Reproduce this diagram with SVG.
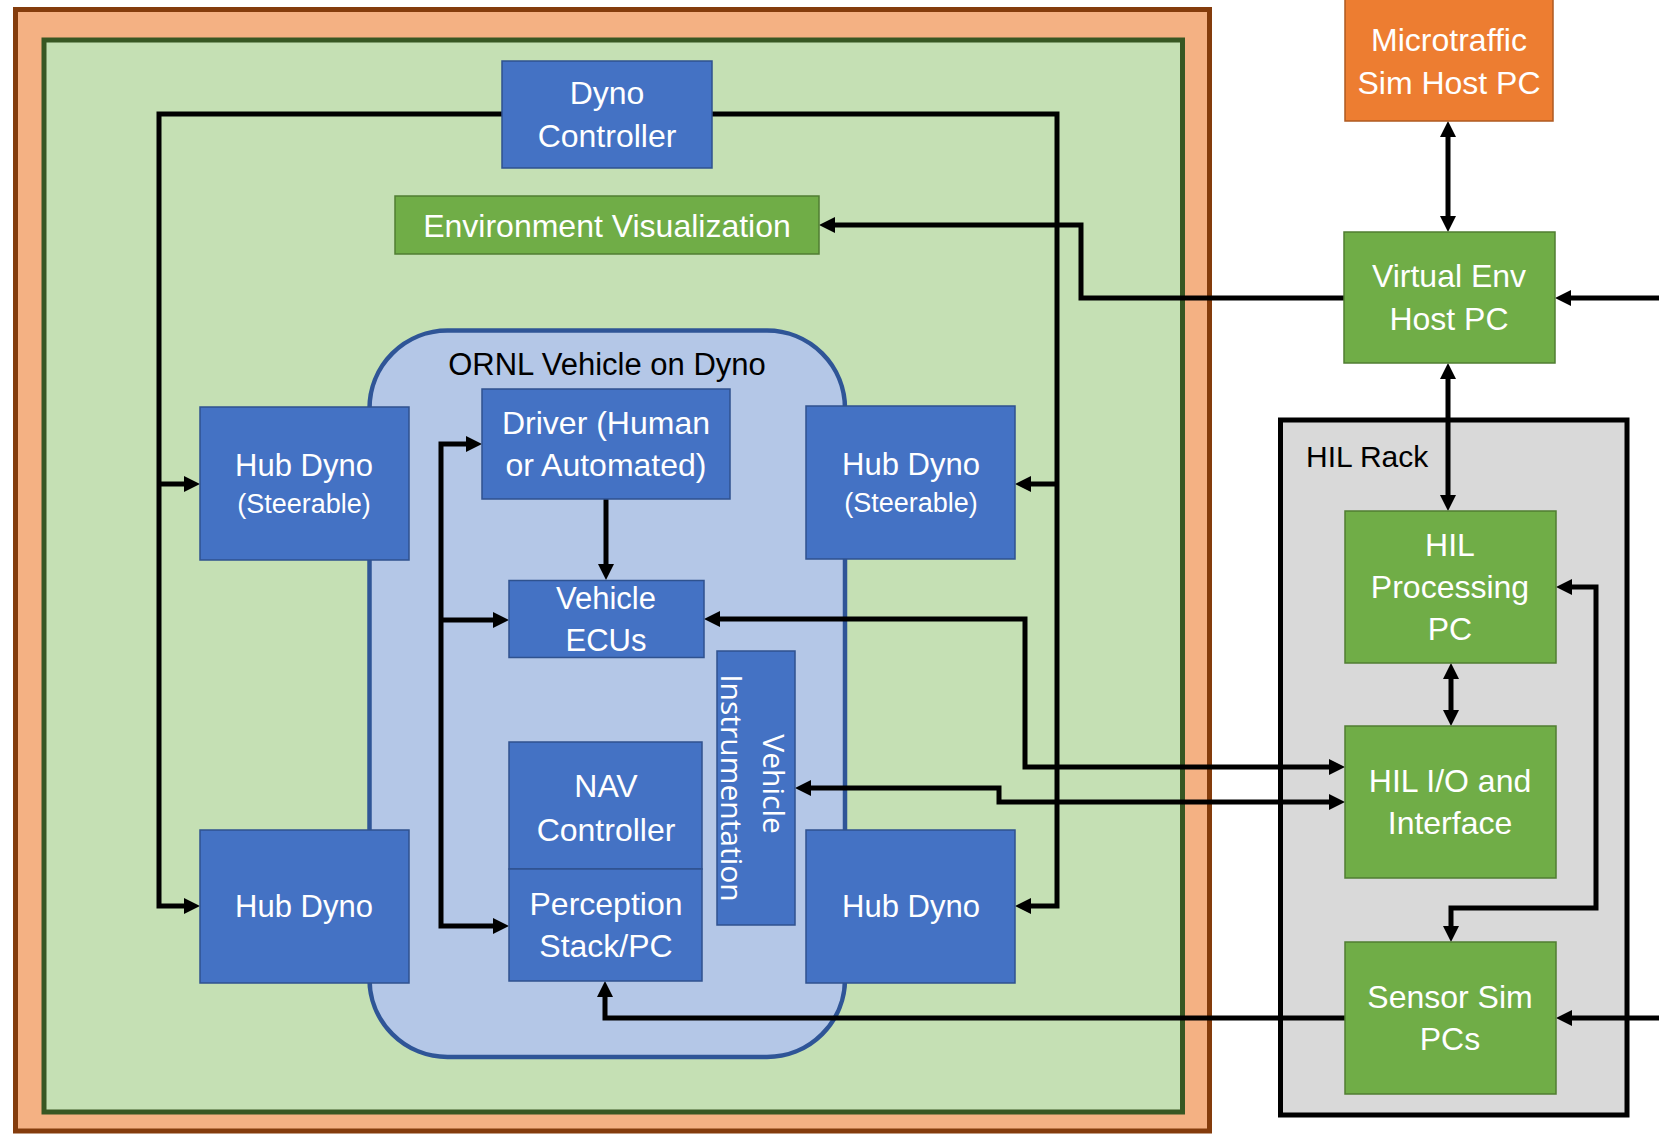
<svg xmlns="http://www.w3.org/2000/svg" width="1659" height="1134" viewBox="0 0 1659 1134">
  <style>
    .lbl { font-family: "Liberation Sans", Arial, sans-serif; font-size: 32px; fill: #ffffff; text-anchor: middle; }
    .dark { fill: #000000; }
    .blue { fill: #4472C4; stroke: #2F528F; stroke-width: 1.5; }
    .green { fill: #70AD47; stroke: #507E32; stroke-width: 1.5; }
    .orange { fill: #ED7D31; stroke: #AE5A21; stroke-width: 1.5; }
    .wire { fill: none; stroke: #000000; stroke-width: 5; stroke-linejoin: miter; }
    .one { marker-end: url(#head); }
    .two { marker-start: url(#head); marker-end: url(#head); }
  </style>
  <defs>
    <marker id="head" markerUnits="userSpaceOnUse" viewBox="0 0 16 16" refX="8" refY="8" markerWidth="16" markerHeight="16" orient="auto-start-reverse">
      <path d="M0,0 L16,8 L0,16 Z" fill="#000000"/>
    </marker>
  </defs>

  <rect width="1659" height="1134" fill="#ffffff"/>

  <!-- containers -->
  <g id="facility">
    <rect x="15.5" y="9.5" width="1194" height="1121.5" fill="#F4B183" stroke="#843C0C" stroke-width="5"/>
  </g>
  <g id="dyno-cell">
    <rect x="44" y="40" width="1138.5" height="1072" fill="#C5E0B4" stroke="#385723" stroke-width="5"/>
  </g>
  <g id="vehicle">
    <rect x="369.5" y="330.5" width="475.5" height="726.5" rx="78" ry="78" fill="#B4C7E7" stroke="#2F5597" stroke-width="4.5"/>
    <text class="lbl dark" x="607" y="375" style="font-size:31px">ORNL Vehicle on Dyno</text>
  </g>
  <g id="hil-rack">
    <rect x="1280.5" y="420" width="346.5" height="695" fill="#D9D9D9" stroke="#000000" stroke-width="5"/>
    <text class="lbl dark" x="1306" y="467" style="font-size:30px;text-anchor:start">HIL Rack</text>
  </g>

  <!-- connectors -->
  <g id="connectors">
    <path class="wire one" d="M502,114 H159 V906 H192"/>
    <path class="wire one" d="M159,484 H192"/>
    <path class="wire one" d="M712,114 H1057 V906 H1023"/>
    <path class="wire one" d="M1057,484 H1023"/>
    <path class="wire one" d="M1344,298 H1081 V225 H827"/>
    <path class="wire one" d="M1659,298 H1563"/>
    <path class="wire two" d="M1448,129 V224"/>
    <path class="wire two" d="M1448,371 V503"/>
    <path class="wire two" d="M1451,671 V718"/>
    <path class="wire two" d="M1564,587 H1596 V908 H1451 V934"/>
    <path class="wire one" d="M1659,1018 H1564"/>
    <path class="wire one" d="M1345,1018 H605 V989"/>
    <path class="wire two" d="M712,619 H1025 V767 H1337"/>
    <path class="wire two" d="M803,788 H999 V802 H1337"/>
    <path class="wire two" d="M474,444 H441 V926 H501"/>
    <path class="wire one" d="M441,620 H501"/>
    <path class="wire one" d="M606,499 V572"/>
  </g>

  <!-- nodes -->
  <g id="dyno-controller">
    <rect class="blue" x="502" y="61" width="210" height="107"/>
    <text class="lbl" x="607" y="104">Dyno</text>
    <text class="lbl" x="607" y="147">Controller</text>
  </g>
  <g id="environment-visualization">
    <rect class="green" x="395" y="196" width="424" height="58"/>
    <text class="lbl" x="607" y="237">Environment Visualization</text>
  </g>
  <g id="hub-dyno-front-left">
    <rect class="blue" x="200" y="407" width="209" height="153"/>
    <text class="lbl" x="304" y="476" style="font-size:31px">Hub Dyno</text>
    <text class="lbl" x="304" y="513" style="font-size:27px">(Steerable)</text>
  </g>
  <g id="hub-dyno-front-right">
    <rect class="blue" x="806" y="406" width="209" height="153"/>
    <text class="lbl" x="911" y="475" style="font-size:31px">Hub Dyno</text>
    <text class="lbl" x="911" y="512" style="font-size:27px">(Steerable)</text>
  </g>
  <g id="hub-dyno-rear-left">
    <rect class="blue" x="200" y="830" width="209" height="153"/>
    <text class="lbl" x="304" y="917" style="font-size:31px">Hub Dyno</text>
  </g>
  <g id="hub-dyno-rear-right">
    <rect class="blue" x="806" y="830" width="209" height="153"/>
    <text class="lbl" x="911" y="917" style="font-size:31px">Hub Dyno</text>
  </g>
  <g id="driver">
    <rect class="blue" x="482" y="389" width="248" height="110"/>
    <text class="lbl" x="606" y="434">Driver (Human</text>
    <text class="lbl" x="606" y="476">or Automated)</text>
  </g>
  <g id="vehicle-ecus">
    <rect class="blue" x="509" y="580.5" width="195" height="77"/>
    <text class="lbl" x="606" y="609" style="font-size:31px">Vehicle</text>
    <text class="lbl" x="606" y="651" style="font-size:31px">ECUs</text>
  </g>
  <g id="vehicle-instrumentation">
    <rect class="blue" x="717" y="651" width="78" height="274"/>
    <text transform="translate(756,788) rotate(90)" style="font-family:'Open Sans','Liberation Sans',sans-serif;font-size:30px;fill:#ffffff;text-anchor:middle">
      <tspan x="0" y="-7">Vehicle</tspan>
      <tspan x="0" y="35">Instrumentation</tspan>
    </text>
  </g>
  <g id="nav-controller">
    <rect class="blue" x="509" y="742" width="193" height="127"/>
    <text class="lbl" x="606" y="797">NAV</text>
    <text class="lbl" x="606" y="841">Controller</text>
  </g>
  <g id="perception-stack">
    <rect class="blue" x="509" y="869" width="193" height="112"/>
    <text class="lbl" x="606" y="915">Perception</text>
    <text class="lbl" x="606" y="957">Stack/PC</text>
  </g>
  <g id="microtraffic-sim">
    <rect class="orange" x="1345" y="-1" width="208" height="122"/>
    <text class="lbl" x="1449" y="51">Microtraffic</text>
    <text class="lbl" x="1449" y="94">Sim Host PC</text>
  </g>
  <g id="virtual-env-host">
    <rect class="green" x="1344" y="232" width="211" height="131"/>
    <text class="lbl" x="1449" y="287">Virtual Env</text>
    <text class="lbl" x="1449" y="330">Host PC</text>
  </g>
  <g id="hil-processing">
    <rect class="green" x="1345" y="511" width="211" height="152"/>
    <text class="lbl" x="1450" y="556">HIL</text>
    <text class="lbl" x="1450" y="598">Processing</text>
    <text class="lbl" x="1450" y="640">PC</text>
  </g>
  <g id="hil-io">
    <rect class="green" x="1345" y="726" width="211" height="152"/>
    <text class="lbl" x="1450" y="792">HIL I/O and</text>
    <text class="lbl" x="1450" y="834">Interface</text>
  </g>
  <g id="sensor-sim">
    <rect class="green" x="1345" y="942" width="211" height="152"/>
    <text class="lbl" x="1450" y="1008">Sensor Sim</text>
    <text class="lbl" x="1450" y="1050">PCs</text>
  </g>
</svg>
